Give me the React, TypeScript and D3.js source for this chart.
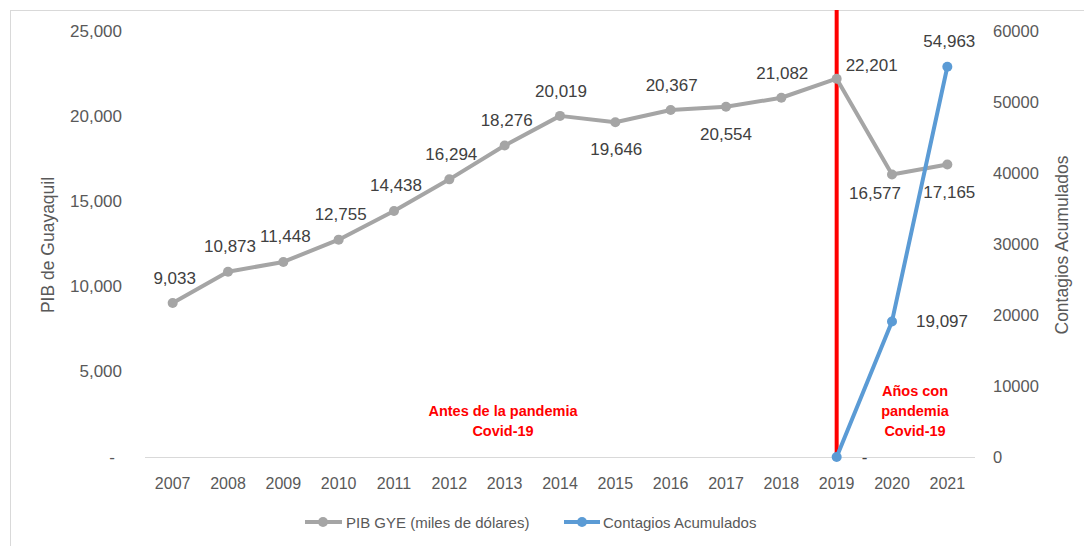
import React from "react";
import { scaleLinear, scalePoint, line, format } from "d3";

const years = ["2007", "2008", "2009", "2010", "2011", "2012", "2013", "2014", "2015", "2016", "2017", "2018", "2019", "2020", "2021"];
const pib = [9033, 10873, 11448, 12755, 14438, 16294, 18276, 20019, 19646, 20367, 20554, 21082, 22201, 16577, 17165];
const contagiosYears = ["2019", "2020", "2021"];
const contagios = [0, 19097, 54963];
const leftTicks = [0, 5000, 10000, 15000, 20000, 25000];
const rightTicks = [0, 10000, 20000, 30000, 40000, 50000, 60000];

// label offsets (dx, dy, anchor) per point
const pibLabelPos: [number, number, string][] = [
    [2, -25, "middle"], [2, -25, "middle"], [2, -25, "middle"], [2, -25, "middle"],
    [2, -25, "middle"], [2, -25, "middle"], [2, -25, "middle"], [1, -24, "middle"],
    [1, 27, "middle"], [1, -24, "middle"], [0, 28, "middle"], [1, -24, "middle"],
    [9, -13, "start"], [-17, 19, "middle"], [2, 28, "middle"],
];
const contLabelPos: [number, number, string][] = [
    [25, 0, "start"], [24, 0, "start"], [2, -25, "middle"],
];

const W = 1084;
const H = 546;
const FONT = "'Liberation Sans', Arial, sans-serif";
const GRAY = "#A5A5A5";
const BLUE = "#5B9BD5";
const TEXT = "#595959";
const LABEL = "#404040";

const App: React.FC = () => {
    const x = scalePoint<string>().domain(years).range([145, 975]).padding(0.5);
    const yL = scaleLinear().domain([0, 25000]).range([457, 31]);
    const yR = scaleLinear().domain([0, 60000]).range([457, 31]);
    const fmtL = (v: number) => (v === 0 ? "-" : format(",")(v));
    const fmtData = (v: number) => (v === 0 ? "-" : format(",")(v));

    const pibLine = line<number>()
        .x((_, i) => x(years[i])!)
        .y((d) => yL(d));
    const contLine = line<number>()
        .x((_, i) => x(contagiosYears[i])!)
        .y((d) => yR(d));

    const redX = x("2019")!;

    return (
        <svg width={W} height={H} style={{ position: "absolute", left: 0, top: 0 }} fontFamily={FONT}>
            <rect x={0} y={0} width={W} height={H} fill="#fff" />
            <rect x={10.5} y={10.5} width={W} height={H} fill="none" stroke="#D9D9D9" />

            {/* x axis */}
            <line x1={145} x2={975} y1={yL(0) + 0.5} y2={yL(0) + 0.5} stroke="#D9D9D9" />
            {years.map((yr) => (
                <text key={yr} x={x(yr)} y={483} textAnchor="middle" dominantBaseline="central" fontSize={16} fill={TEXT}>
                    {yr}
                </text>
            ))}

            {/* left axis */}
            {leftTicks.map((t) => (
                <text key={t} x={t === 0 ? 115 : 122} y={yL(t)} textAnchor="end" dominantBaseline="central" fontSize={17} fill={TEXT}>
                    {fmtL(t)}
                </text>
            ))}
            <text transform={`translate(48,${245}) rotate(-90)`} textAnchor="middle" dominantBaseline="central" fontSize={17.5} fill={TEXT}>
                PIB de Guayaquil
            </text>

            {/* right axis */}
            {rightTicks.map((t) => (
                <text key={t} x={993} y={yR(t)} textAnchor="start" dominantBaseline="central" fontSize={16.5} fill={TEXT}>
                    {t}
                </text>
            ))}
            <text transform={`translate(1062,${245}) rotate(-90)`} textAnchor="middle" dominantBaseline="central" fontSize={17.5} fill={TEXT}>
                Contagios Acumulados
            </text>

            {/* red divider */}
            <line x1={redX} x2={redX} y1={10} y2={yL(0)} stroke="#FF0000" strokeWidth={4} />

            {/* PIB series */}
            <path d={pibLine(pib)!} fill="none" stroke={GRAY} strokeWidth={4} strokeLinejoin="round" />
            {pib.map((v, i) => (
                <circle key={i} cx={x(years[i])} cy={yL(v)} r={5} fill={GRAY} />
            ))}

            {/* Contagios series */}
            <path d={contLine(contagios)!} fill="none" stroke={BLUE} strokeWidth={4} strokeLinejoin="round" />
            {contagios.map((v, i) => (
                <circle key={i} cx={x(contagiosYears[i])} cy={yR(v)} r={5} fill={BLUE} />
            ))}

            {/* data labels */}
            {pib.map((v, i) => (
                <text
                    key={"pl" + i}
                    x={x(years[i])! + pibLabelPos[i][0]}
                    y={yL(v) + pibLabelPos[i][1]}
                    textAnchor={pibLabelPos[i][2] as any}
                    dominantBaseline="central"
                    fontSize={17}
                    fill={LABEL}
                >
                    {fmtData(v)}
                </text>
            ))}
            {contagios.map((v, i) => (
                <text
                    key={"cl" + i}
                    x={x(contagiosYears[i])! + contLabelPos[i][0]}
                    y={yR(v) + contLabelPos[i][1]}
                    textAnchor={contLabelPos[i][2] as any}
                    dominantBaseline="central"
                    fontSize={17}
                    fill={LABEL}
                >
                    {fmtData(v)}
                </text>
            ))}

            {/* annotations */}
            <g fill="#FF0000" fontWeight="bold" fontSize={14.5} textAnchor="middle">
                <text x={503} y={411} dominantBaseline="central">Antes de la pandemia</text>
                <text x={503} y={431} dominantBaseline="central">Covid-19</text>
                <text x={915} y={391} dominantBaseline="central">Años con</text>
                <text x={915} y={411} dominantBaseline="central">pandemia</text>
                <text x={915} y={431} dominantBaseline="central">Covid-19</text>
            </g>

            {/* legend */}
            <g>
                <line x1={305} x2={342} y1={522} y2={522} stroke={GRAY} strokeWidth={4} />
                <circle cx={323} cy={522} r={5} fill={GRAY} />
                <text x={346} y={522} dominantBaseline="central" fontSize={15} fill={TEXT}>
                    PIB GYE (miles de dólares)
                </text>
                <line x1={564} x2={600} y1={522} y2={522} stroke={BLUE} strokeWidth={4} />
                <circle cx={582} cy={522} r={5} fill={BLUE} />
                <text x={603} y={522} dominantBaseline="central" fontSize={15} fill={TEXT}>
                    Contagios Acumulados
                </text>
            </g>
        </svg>
    );
};

export default App;
